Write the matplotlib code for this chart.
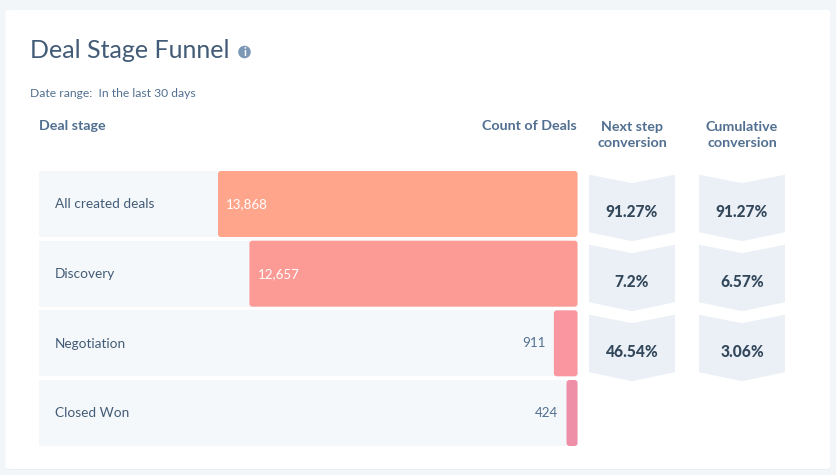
import matplotlib
matplotlib.use('Agg')
import matplotlib.pyplot as plt
from matplotlib.patches import FancyBboxPatch, Polygon, Circle

plt.rcParams['font.family'] = ['Lato', 'DejaVu Sans']

stages = ['All created deals', 'Discovery', 'Negotiation', 'Closed Won']
counts = [13868, 12657, 911, 424]
count_labels = ['13,868', '12,657', '911', '424']
next_step = ['91.27%', '7.2%', '46.54%']
cumulative = ['91.27%', '6.57%', '3.06%']
bar_colors = ['#FFA58C', '#FC9A96', '#F9969F', '#EE8FA7']

W, H = 836, 475
DARK = '#33475B'
SOFT = '#425B76'
MID = '#516F90'
ROW_BG = '#F5F8FA'
CHEV = '#EAF0F6'

fig = plt.figure(figsize=(W / 100, H / 100), dpi=100, facecolor='#F3F6F9')

# whole figure axes, in pixels, for the card and the text
ax = fig.add_axes([0, 0, 1, 1])
ax.set_xlim(0, W)
ax.set_ylim(H, 0)
ax.axis('off')

ax.add_patch(FancyBboxPatch((6, 11), 825, 459, boxstyle='round,pad=0,rounding_size=3',
                            fc='#E9EEF3', ec='none', zorder=0))
ax.add_patch(FancyBboxPatch((5.5, 10), 825, 459, boxstyle='round,pad=0,rounding_size=3',
                            fc='white', ec='none', zorder=1))

ax.text(29.5, 50.5, 'Deal Stage Funnel', fontsize=18, color=SOFT,
        va='center', ha='left', zorder=3)
ax.add_patch(Circle((244.5, 52), 6.3, fc='#7C98B6', ec='none', zorder=3))
ax.text(244.5, 52, 'i', fontsize=8, color='white', fontweight='bold', va='center', ha='center', zorder=4)
ax.text(29.5, 93.5, 'Date range:  In the last 30 days', fontsize=8.7, color=MID, va='center', ha='left', zorder=3)

ax.text(39, 126, 'Deal stage', fontsize=10.3, color=MID, fontweight='bold', va='center', ha='left', zorder=3)
ax.text(577, 126, 'Count of Deals', fontsize=10.3, color=MID, fontweight='bold', va='center', ha='right', zorder=3)
ax.text(632, 135, 'Next step\nconversion', fontsize=10.3, color=MID, fontweight='bold', va='center',
        ha='center', linespacing=1.42, zorder=3)
ax.text(742, 135, 'Cumulative\nconversion', fontsize=10.3, color=MID, fontweight='bold', va='center',
        ha='center', linespacing=1.42, zorder=3)


def chevron(cx, top, label):
    pts = [(cx - 43, top), (cx, top + 8.5), (cx + 43, top), (cx + 43, top + 57.5),
           (cx, top + 66.5), (cx - 43, top + 57.5)]
    ax.add_patch(Polygon(pts, closed=True, fc=CHEV, ec='none', zorder=2))
    ax.text(cx, top + 37, label, fontsize=11.2, color=DARK, fontweight='black',
            va='center', ha='center', zorder=3)


for i in range(len(next_step)):
    top = 174.7 + i * 70
    chevron(632, top, next_step[i])
    chevron(742, top, cumulative[i])

# bar axes, x runs right to left from the shared right edge
left_px, right_px, top_px, bottom_px = 39, 577.5, 171, 446
px_per_deal = 359.5 / max(counts)
row_pitch = 69.67
bar_ax = fig.add_axes([left_px / W, 1 - bottom_px / H, (right_px - left_px) / W, (bottom_px - top_px) / H])
bar_ax.patch.set_alpha(0)
x_max = (right_px - left_px) / px_per_deal
bar_ax.set_xlim(x_max, 0)
bar_ax.set_ylim(3 + 33 / row_pitch, -33 / row_pitch)
bar_ax.axis('off')

rows = list(range(len(stages)))
bar_h = 66 / row_pitch
bar_ax.barh(rows, [x_max] * len(rows), height=bar_h, color=ROW_BG, zorder=1)

bars = bar_ax.barh(rows, counts, height=bar_h, color=bar_colors, zorder=2)
aspect = (1 / row_pitch) / (1 / px_per_deal)
for bar in bars:
    # swap each square bar for a rounded one of the same extent
    rounded = FancyBboxPatch((bar.get_x(), bar.get_y()), bar.get_width(), bar.get_height(),
                             boxstyle='round,pad=0,rounding_size=%f' % (3 / px_per_deal),
                             mutation_aspect=aspect, fc=bar.get_facecolor(), ec='none', zorder=2)
    bar.remove()
    bar_ax.add_patch(rounded)

for i, name in enumerate(stages):
    bar_ax.text(x_max - 16 / px_per_deal, i + 0.005, name, fontsize=9.8, color=SOFT,
                va='center', ha='left', zorder=5)

for i, count in enumerate(counts):
    if count > 5000:
        # big bars carry the number inside, at their left end
        bar_ax.text(count - 8 / px_per_deal, i, count_labels[i], fontsize=9.6, color='white',
                    va='center', ha='left', zorder=5)
    else:
        bar_ax.text(count + 8 / px_per_deal, i, count_labels[i], fontsize=9.6, color=MID,
                    va='center', ha='right', zorder=5)

fig.savefig('out.png', dpi=100, facecolor=fig.get_facecolor())
